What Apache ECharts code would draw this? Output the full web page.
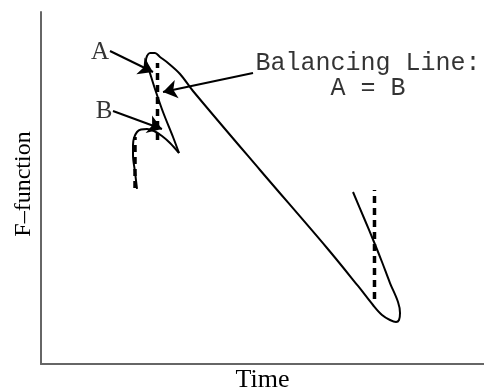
<!DOCTYPE html>
<html>
<head>
<meta charset="utf-8">
<style>
  html, body { margin: 0; padding: 0; background: #fff; }
  #chart { width: 484px; height: 391px; }
</style>
<script src="https://cdn.jsdelivr.net/npm/echarts@6/dist/echarts.min.js"></script>
</head>
<body>
<div id="chart"></div>
<script>
// F-function trajectory over time (time units 0-10, F units 0-10).
// First leg: rise from the start up to the sharp turning point.
const legOneTime = [2.167, 2.122, 2.077, 2.077, 2.099, 2.167, 2.257, 2.393, 2.551, 2.731,
  2.912, 3.115];
const legOneF = [4.972, 5.455, 5.938, 6.222, 6.420, 6.591, 6.662, 6.676, 6.619, 6.477,
  6.278, 5.994];
// Second leg: from the turning point over the top loop, down the long descent
// and back up through the bottom loop.
const legTwoTime = [3.115, 2.980, 2.754, 2.573, 2.438, 2.370, 2.393, 2.460, 2.573,
  2.686, 2.867, 3.138, 3.431, 4.944, 6.456, 7.156, 7.494, 7.698, 7.878, 8.014,
  8.081, 8.104, 8.059, 7.878, 7.698, 7.517, 7.291, 7.043];
const legTwoF = [5.994, 6.449, 7.159, 7.813, 8.352, 8.608, 8.750, 8.835, 8.835,
  8.722, 8.551, 8.239, 7.756, 5.511, 3.295, 2.216, 1.676, 1.392, 1.250, 1.193,
  1.250, 1.449, 1.761, 2.301, 2.898, 3.466, 4.148, 4.886];

// Balancing lines (vertical dashed): time, F from, F to
const balanceTime = [2.122, 2.630, 7.528];
const balanceFrom = [5.000, 6.364, 1.847];
const balanceTo   = [6.449, 8.551, 4.943];

// Annotation arrows: tail (time, F) -> head (time, F)
const arrowTailT = [1.558, 1.625, 4.786];
const arrowTailF = [8.892, 7.188, 8.267];
const arrowHeadT = [2.528, 2.731, 2.754];
const arrowHeadF = [8.295, 6.676, 7.727];

// Point labels
const markText = ['A', 'B'];
const markT = [1.332, 1.422];
const markF = [8.864, 7.188];

// Balancing line caption
const captionText = ['Balancing Line:', 'A = B'];
const captionT = [7.381, 7.381];
const captionF = [8.551, 7.841];

const pairs = (xs, ys) => xs.map((x, i) => [x, ys[i]]);

const curveStyle = { color: '#000', width: 2 };
const series = [
  { type: 'line', data: pairs(legOneTime, legOneF), showSymbol: false, smooth: 0.35, lineStyle: curveStyle, z: 3 },
  { type: 'line', data: pairs(legTwoTime, legTwoF), showSymbol: false, smooth: 0.35, lineStyle: curveStyle, z: 3 }
];
balanceTime.forEach((t, i) => {
  series.push({
    type: 'line',
    data: [[t, balanceFrom[i]], [t, balanceTo[i]]],
    showSymbol: false,
    lineStyle: { color: '#000', width: 3.5, type: [7, 5] },
    z: 2
  });
});
series.push({
  type: 'lines',
  coordinateSystem: 'cartesian2d',
  symbol: ['none', 'arrow'],
  symbolSize: 14,
  lineStyle: { color: '#000', width: 2, opacity: 1 },
  data: arrowTailT.map((t, i) => ({
    coords: [[t, arrowTailF[i]], [arrowHeadT[i], arrowHeadF[i]]]
  })),
  z: 4
});
series.push({
  type: 'scatter',
  symbolSize: 1,
  itemStyle: { color: 'transparent' },
  data: markT.map((t, i) => ({ value: [t, markF[i]], name: markText[i] })),
  label: {
    show: true, position: 'inside', formatter: '{b}',
    fontFamily: '"Liberation Serif", "Times New Roman", serif',
    fontSize: 25, color: '#000'
  },
  z: 5
});
series.push({
  type: 'scatter',
  symbolSize: 1,
  itemStyle: { color: 'transparent' },
  data: captionT.map((t, i) => ({ value: [t, captionF[i]], name: captionText[i] })),
  label: {
    show: true, position: 'inside', formatter: '{b}',
    fontFamily: '"Liberation Mono", "Courier New", monospace',
    fontSize: 25, color: '#000'
  },
  z: 5
});

const chart = echarts.init(document.getElementById('chart'), null, { renderer: 'canvas' });
chart.setOption({
  animation: false,
  backgroundColor: '#fff',
  grid: { left: 41, right: 0, top: 12, bottom: 27, containLabel: false, outerBoundsMode: 'none' },
  xAxis: {
    type: 'value', min: 0, max: 10,
    name: 'Time', nameLocation: 'middle', nameGap: 3,
    nameTextStyle: { fontFamily: '"Liberation Serif", "Times New Roman", serif', fontSize: 26, color: '#000' },
    axisLine: { show: true, lineStyle: { color: '#666', width: 2 } },
    axisTick: { show: false }, axisLabel: { show: false }, splitLine: { show: false }
  },
  yAxis: {
    type: 'value', min: 0, max: 10,
    name: 'F\u2013function', nameLocation: 'middle', nameGap: 5,
    nameTextStyle: {
      fontFamily: '"Liberation Serif", "Times New Roman", serif', fontSize: 24, color: '#000',
      padding: [0, 0, 0, 8]
    },
    axisLine: { show: true, lineStyle: { color: '#666', width: 2 } },
    axisTick: { show: false }, axisLabel: { show: false }, splitLine: { show: false }
  },
  series: series
});
</script>
</body>
</html>
